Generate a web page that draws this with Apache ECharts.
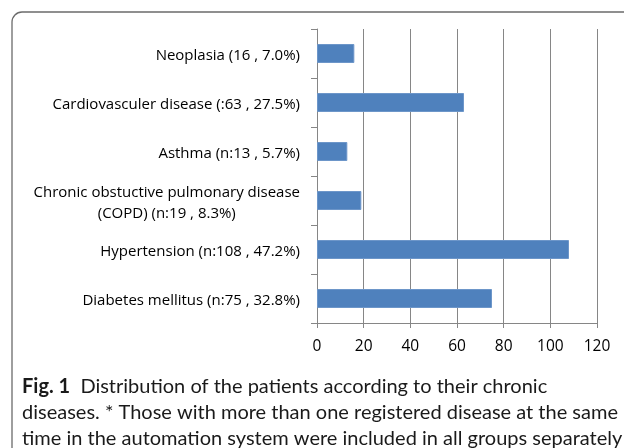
<!DOCTYPE html>
<html>
<head>
<meta charset="utf-8">
<script src="https://cdn.jsdelivr.net/npm/echarts@6/dist/echarts.min.js"></script>
<style>
  html, body { margin: 0; padding: 0; background: #fff; }
  #chart { width: 624px; height: 448px; }
</style>
</head>
<body>
<div id="chart"></div>
<script>
// categories top to bottom
var diseases = [
  'Neoplasia (16 , 7.0%)',
  'Cardiovasculer disease (:63 , 27.5%)',
  'Asthma (n:13 , 5.7%)',
  'Chronic obstuctive pulmonary disease\n(COPD) (n:19 , 8.3%)',
  'Hypertension (n:108 , 47.2%)',
  'Diabetes mellitus (n:75 , 32.8%)'
]
var patientCounts = [16, 63, 13, 19, 108, 75]
var axisMax = 120
var axisStep = 20

var captionLines = [
  'Distribution of the patients according to their chronic',
  'diseases. * Those with more than one registered disease at the same',
  'time in the automation system were included in all groups separately'
]

var myChart = echarts.init(document.getElementById('chart'))

var options = {
  backgroundColor: '#fff',
  animation: false,
  grid: {
    left: 317,
    top: 29,
    width: 280,
    height: 294
  },
  xAxis: {
    type: 'value',
    min: 0,
    max: axisMax,
    interval: axisStep,
    axisLine: { show: true, lineStyle: { color: '#868686', width: 1 } },
    axisTick: { show: true, length: 5, lineStyle: { color: '#868686' } },
    splitLine: { show: true, lineStyle: { color: '#868686', width: 1 } },
    axisLabel: {
      margin: 16,
      color: '#000',
      fontFamily: 'Open Sans',
      fontSize: 15.5
    }
  },
  yAxis: {
    type: 'category',
    inverse: true,
    data: diseases,
    axisLine: { show: true, lineStyle: { color: '#868686', width: 1 } },
    axisTick: { show: true, length: 6, lineStyle: { color: '#868686' } },
    axisLabel: {
      margin: 17,
      color: '#000',
      fontFamily: 'Open Sans',
      fontSize: 15,
      lineHeight: 21,
      padding: [5, 0, 0, 0],
      formatter: function(value) {
        return value.split('\n').map(function(line) {
          return '{c|' + line + '}'
        }).join('\n')
      },
      rich: {
        c: {
          align: 'center',
          color: '#000',
          fontFamily: 'Open Sans',
          fontSize: 15,
          lineHeight: 21
        }
      }
    }
  },
  series: [
    {
      type: 'bar',
      data: patientCounts,
      barWidth: 19,
      itemStyle: {
        color: '#4f81bd',
        borderColor: '#6d96c9',
        borderWidth: 1
      }
    }
  ],
  graphic: [
    {
      type: 'rect',
      shape: { x: 12, y: 12, width: 660, height: 480, r: 10 },
      style: { fill: 'none', stroke: '#6b6b6b', lineWidth: 1.3 },
      z: -1
    },
    {
      type: 'text',
      left: 22,
      top: 374,
      style: {
        text: '{b|Fig. 1}  ' + captionLines[0] + '\n' + captionLines[1] + '\n' + captionLines[2],
        fill: '#1a1a1a',
        fontFamily: 'Lato',
        fontSize: 20,
        lineHeight: 26,
        rich: {
          b: {
            fontWeight: 'bold',
            fontFamily: 'Lato',
            fontSize: 20,
            lineHeight: 26,
            fill: '#1a1a1a'
          }
        }
      }
    }
  ]
}

myChart.setOption(options)
</script>
</body>
</html>
